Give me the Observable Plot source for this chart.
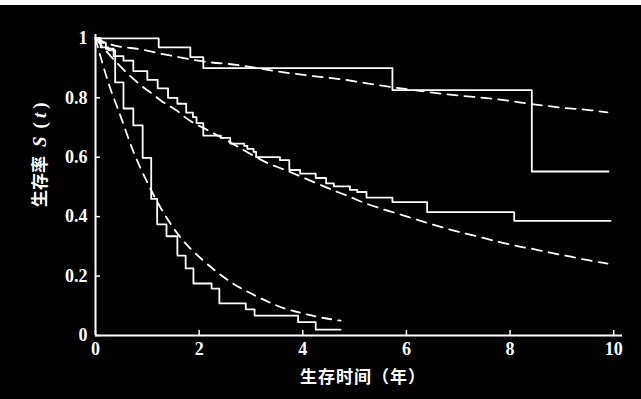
<!DOCTYPE html>
<html><head><meta charset="utf-8">
<script src="https://cdn.jsdelivr.net/npm/d3@7"></script>
<script src="https://cdn.jsdelivr.net/npm/@observablehq/plot@0.6"></script>
<style>
html,body{margin:0;padding:0;background:#000;}
#topband{height:5px;background:#fff;}
</style></head>
<body><div id="topband"></div><div id="chart"></div>
<script>
// axis ticks and labels
const xTicks = [0, 2, 4, 6, 8, 10];
const yTicks = [0, 0.2, 0.4, 0.6, 0.8, 1];
const yTickLabels = ["0", "0.2", "0.4", "0.6", "0.8", "1"];
const xLabel = "生存时间（年）";
const yLabel = "生存率 S (t)";

// Kaplan-Meier step curves (time in years, survival)
const stepA_t = [0, 1.22, 1.83, 2.08, 5.73, 8.42, 9.9];
const stepA_s = [1.0, 0.97, 0.937, 0.90, 0.826, 0.552, 0.552];

const stepB_t = [0, 0.08, 0.2, 0.35, 0.54, 0.73, 1.0, 1.2, 1.4, 1.58, 1.75, 1.88, 1.95, 2.08, 2.42, 2.6, 2.87, 2.93, 3.05, 3.1, 3.56, 3.74, 3.95, 4.25, 4.45, 4.6, 4.91, 5.05, 5.23, 5.73, 6.4, 8.08, 9.94];
const stepB_s = [1.0, 0.985, 0.965, 0.94, 0.925, 0.89, 0.86, 0.832, 0.80, 0.78, 0.75, 0.735, 0.715, 0.673, 0.665, 0.646, 0.638, 0.628, 0.618, 0.60, 0.59, 0.557, 0.545, 0.53, 0.512, 0.502, 0.49, 0.483, 0.464, 0.449, 0.415, 0.386, 0.386];

const stepC_t = [0, 0.1, 0.25, 0.38, 0.54, 0.73, 0.91, 1.075, 1.19, 1.37, 1.58, 1.74, 1.89, 2.24, 2.39, 2.9, 3.07, 3.91, 4.25, 4.73];
const stepC_s = [1.0, 0.97, 0.96, 0.852, 0.764, 0.707, 0.598, 0.46, 0.374, 0.334, 0.269, 0.226, 0.175, 0.158, 0.108, 0.088, 0.067, 0.045, 0.02, 0.02];

// fitted (dashed) curves
const dashA_t = [0, 0.29, 0.94, 1.27, 1.54, 2.18, 2.72, 3.5, 4.15, 4.67, 5.56, 6.98, 7.66, 8.46, 8.98, 9.56, 9.88];
const dashA_s = [1.0, 0.98, 0.961, 0.948, 0.939, 0.92, 0.911, 0.889, 0.874, 0.864, 0.84, 0.808, 0.797, 0.778, 0.767, 0.758, 0.751];

const dashB_t = [0, 0.4, 0.84, 1.09, 1.3, 1.56, 1.81, 2.1, 2.6, 3.0, 3.35, 3.6, 4.6, 4.89, 5.21, 5.53, 5.89, 6.2, 6.5, 6.79, 7.47, 7.8, 8.14, 8.48, 8.8, 9.15, 9.45, 9.78, 9.88];
const dashB_s = [1.0, 0.92, 0.847, 0.814, 0.786, 0.758, 0.724, 0.697, 0.65, 0.61, 0.578, 0.561, 0.488, 0.468, 0.445, 0.426, 0.407, 0.39, 0.374, 0.359, 0.329, 0.314, 0.301, 0.29, 0.278, 0.266, 0.255, 0.245, 0.242];

const dashC_t = [0, 0.25, 0.48, 0.74, 1.0, 1.29, 1.64, 2.03, 2.35, 2.61, 3.12, 3.67, 3.99, 4.31, 4.73];
const dashC_s = [1.0, 0.85, 0.74, 0.615, 0.515, 0.42, 0.33, 0.26, 0.213, 0.18, 0.131, 0.09, 0.075, 0.062, 0.05];

const rows = (t, s) => t.map((d, i) => ({t: d, s: s[i]}));

const white = "#fff";
const tickFont = {fontSize: 18, fontFamily: "Liberation Serif, serif", fontWeight: "bold"};
const cjkFont = {fontSize: 17, fontFamily: "Noto Sans CJK SC, sans-serif", fontWeight: "bold"};

const chart = Plot.plot({
  width: 641, height: 394,
  marginLeft: 95, marginRight: 19, marginTop: 29, marginBottom: 64,
  style: {background: "#000", color: white, overflow: "visible"},
  x: {domain: [0, 10.17]},
  y: {domain: [0, 1.013]},
  marks: [
    Plot.ruleY([0], {stroke: white, strokeWidth: 2}),
    Plot.ruleX([0], {stroke: white, strokeWidth: 2}),
    Plot.tickX(xTicks, {x: d => d, stroke: white, strokeWidth: 1.5, insetTop: 296}),
    Plot.tickY(yTicks, {y: d => d, stroke: white, strokeWidth: 1.5, insetRight: 522}),
    Plot.axisX({ticks: xTicks, tickSize: 0, tickPadding: 7, label: null, ...tickFont}),
    Plot.axisY({ticks: yTicks, tickSize: 0, tickPadding: 8, label: null,
      tickFormat: d => yTickLabels[yTicks.indexOf(d)], ...tickFont}),
    Plot.line(rows(stepA_t, stepA_s), {x: "t", y: "s", curve: "step-after", stroke: white, strokeWidth: 1.8}),
    Plot.line(rows(stepB_t, stepB_s), {x: "t", y: "s", curve: "step-after", stroke: white, strokeWidth: 1.8}),
    Plot.line(rows(stepC_t, stepC_s), {x: "t", y: "s", curve: "step-after", stroke: white, strokeWidth: 1.8}),
    Plot.line(rows(dashA_t, dashA_s), {x: "t", y: "s", curve: "monotone-x", stroke: white, strokeWidth: 1.8, strokeDasharray: "10,7"}),
    Plot.line(rows(dashB_t, dashB_s), {x: "t", y: "s", curve: "monotone-x", stroke: white, strokeWidth: 1.8, strokeDasharray: "10,7"}),
    Plot.line(rows(dashC_t, dashC_s), {x: "t", y: "s", curve: "monotone-x", stroke: white, strokeWidth: 1.8, strokeDasharray: "9,7"}),
    Plot.text([xLabel], {frameAnchor: "bottom", dx: 4, dy: 47, fill: white, ...cjkFont}),
    Plot.text([yLabel], {frameAnchor: "left", rotate: -90, dx: -55, dy: 22, fill: white, ...cjkFont})
  ]
});
document.getElementById("chart").appendChild(chart);

// italicize S and t in the y label, with the wide spacing of the original
const NS = "http://www.w3.org/2000/svg";
d3.select(chart).selectAll("text").each(function() {
  if (this.textContent === yLabel) {
    this.textContent = "";
    const parts = [["生存率", null, 0], ["S", "italic", 9], ["(", null, 8], ["t", "italic", 4], [")", null, 4]];
    for (const [txt, st, gap] of parts) {
      const ts = document.createElementNS(NS, "tspan");
      ts.textContent = txt;
      if (gap) ts.setAttribute("dx", gap);
      if (txt !== "生存率") { ts.setAttribute("font-family", "Liberation Serif, serif"); ts.setAttribute("font-size", 19); }
      if (st) ts.setAttribute("font-style", st);
      this.appendChild(ts);
    }
  } else if (this.textContent === xLabel) {
    this.setAttribute("letter-spacing", "1");
  }
});
</script>
</body></html>
